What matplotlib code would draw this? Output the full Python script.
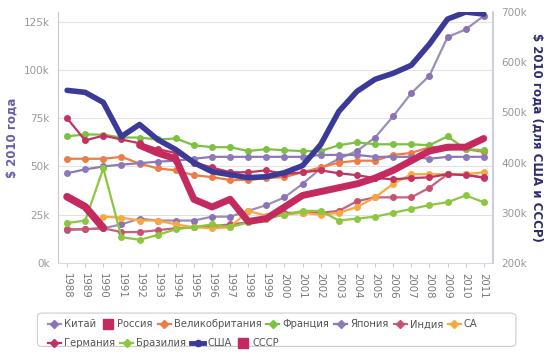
import numpy as np
import matplotlib
matplotlib.use("Agg")
import matplotlib.pyplot as plt
from matplotlib.lines import Line2D
from matplotlib.patches import FancyBboxPatch

plt.rcParams["font.family"] = ["DejaVu Sans"]

years = list(range(1988, 2012))
nan = np.nan

# thousands of 2010 dollars (left axis)
china = [17, 17.5, 18, 20, 23, 22, 22, 22, 24, 24, 27, 30,
         34, 41, 49, 54, 58, 65, 76, 88, 97, 117, 121, 128]
russia = [nan, nan, nan, nan, 61, 57, 54, 33, 29, 33, 21.5, 23,
          29, 35, 37, 39, 41, 44, 48, 53, 58, 60, 60, 64.5]
uk = [54, 54, 54, 55, 51.5, 49, 48, 45.5, 44.5, 43, 43, 44,
      44.5, 47, 49.5, 52, 53, 53, 56, 57, 60, 60, 59, 57.5]
france = [65.6, 66.6, 66.5, 65, 65, 64, 64.5, 61, 60, 60, 58, 59,
          58.4, 58, 58, 61, 62.5, 61.5, 61.5, 61.5, 61, 65.6, 59, 58.4]
japan = [46.5, 48.5, 50, 51, 51.7, 52.5, 53, 54, 55, 55, 55, 55,
         55, 55, 56, 56, 56, 55, 55, 55, 54, 55, 55, 55]
india = [17.5, 17.5, 18, 16, 16, 17, 18, 18.5, 19, 20, 21, 24,
         26, 26, 26, 27, 32, 34, 34, 34, 39, 46, 46, 44]
saudi = [nan, nan, 24, 23.5, 22, 22, 20, 18.5, 18, 18.5, 27, 24.5,
         25, 26, 25, 26, 29, 34, 41, 46, 46, 46, 46, 47]
germany = [75, 63.5, 66, 64, 62, 59, 57, 52, 49.5, 47, 47, 48,
           46, 47, 48, 46.5, 45.5, 44, 43.4, 44, 44.4, 46, 45.5, 44.4]
brazil = [20.7, 22, 49, 13.4, 12, 14.5, 17.5, 18.6, 20, 18.6, 21, 23,
          25, 27, 27, 22, 23, 24, 26, 28, 30, 31.5, 35, 31.5]

# right axis (USA, USSR)
usa = [544, 540, 520, 452, 476, 446, 426, 400, 382, 376, 370, 372,
       380, 394, 436, 502, 542, 566, 578, 594, 636, 686, 700, 696]
ussr_years = [1988, 1989, 1990]
ussr = [332, 312, 270]

left_ticks = [0, 25, 50, 75, 100, 125]
right_ticks = [200, 300, 400, 500, 600, 700]

thin = [
    ("Китай", china, "#9c8fb4", "#8a72b5"),
    ("Великобритания", uk, "#ef7b45", "#ef7b45"),
    ("Франция", france, "#7dc142", "#7dc142"),
    ("Япония", japan, "#8c79b8", "#8c79b8"),
    ("Индия", india, "#c9607c", "#c9506e"),
    ("СА", saudi, "#f7a940", "#f7a940"),
    ("Германия", germany, "#c23360", "#c23360"),
    ("Бразилия", brazil, "#8dc63f", "#8dc63f"),
]
crimson = "#c42a5e"
navy = "#3c3a98"

fig = plt.figure(figsize=(5.5, 3.59), dpi=100)
ax = fig.add_axes([0.1055, 0.2674, 0.7905, 0.699])
ax2 = ax.twinx()

for name, vals, lc, mc in thin:
    ax.plot(years, vals, color=lc, lw=1.6, marker="o", ms=4,
            mfc=mc, mec=mc, zorder=3)
ax.plot(years, russia, color=crimson, lw=5, solid_joinstyle="round",
        solid_capstyle="round", zorder=4)

ax2.plot(years, usa, color=navy, lw=4, solid_joinstyle="round",
         solid_capstyle="round", zorder=5)
ax2.plot(ussr_years, ussr, color=crimson, lw=5.5, solid_joinstyle="round",
         solid_capstyle="round", zorder=5)

ax.set_xlim(1987.5, 2011.5)
ax.set_ylim(0, 130)
ax2.set_ylim(200, 700)
ax.set_yticks(left_ticks)
ax.set_yticklabels([f"{t}k" for t in left_ticks])
ax2.set_yticks(right_ticks)
ax2.set_yticklabels([f"{t}k" for t in right_ticks])
ax.set_xticks(years)
ax.set_xticklabels([str(y) for y in years], rotation=-90)

ax.grid(axis="y", color="#e2e2e2", lw=0.8)
ax.set_axisbelow(True)
for a in (ax, ax2):
    a.spines["top"].set_visible(False)
ax.spines["left"].set_color("#c8c8d0")
ax.spines["bottom"].set_color("#dcdcdc")
ax.spines["right"].set_visible(False)
ax2.spines["left"].set_visible(False)
ax2.spines["bottom"].set_visible(False)
ax2.spines["right"].set_color("#c4c4dc")
ax2.spines["right"].set_linewidth(1.2)

ax.tick_params(axis="y", length=0, labelsize=7.5, labelcolor="#999999", pad=6)
ax2.tick_params(axis="y", length=0, labelsize=7.5, labelcolor="#999999", pad=6)
ax.tick_params(axis="x", length=3, color="#cccccc", labelsize=7.3,
               labelcolor="#777777", pad=4)

ax.set_ylabel("$ 2010 года", color="#6a5fa8", fontsize=8.5,
              fontweight="bold", labelpad=4)
ax2.set_ylabel("$ 2010 года (для США и СССР)", color="#2e2c6e", fontsize=8.5,
               fontweight="bold", rotation=-90, labelpad=12)

# legend box
box = FancyBboxPatch((0.068, 0.035), 0.87, 0.093,
                     boxstyle="round,pad=0,rounding_size=0.01",
                     transform=fig.transFigure, fc="white", ec="#cccccc", lw=0.8)
fig.patches.append(box)


def handle(name):
    for n, vals, lc, mc in thin:
        if n == name:
            return Line2D([], [], color=lc, lw=1.6, marker="D", ms=4,
                          mfc=mc, mec=mc)
    if name in ("Россия", "СССР"):
        return Line2D([], [], color=crimson, lw=0, marker="s", ms=7.5)
    return Line2D([], [], color=navy, lw=3.5, marker="o", ms=4.5)


row1 = ["Китай", "Россия", "Великобритания", "Франция", "Япония", "Индия", "СА"]
row2 = ["Германия", "Бразилия", "США", "СССР"]
common = dict(frameon=False, fontsize=7.2, handlelength=1.3, handletextpad=0.3,
              columnspacing=0.5, borderpad=0, labelcolor="#555555")
leg1 = fig.legend([handle(n) for n in row1], row1, ncol=7, loc="upper left",
                  bbox_to_anchor=(0.078, 0.124), **common)
leg2 = fig.legend([handle(n) for n in row2], row2, ncol=4, loc="upper left",
                  bbox_to_anchor=(0.078, 0.072), **common)

fig.savefig("out.png", dpi=100)
